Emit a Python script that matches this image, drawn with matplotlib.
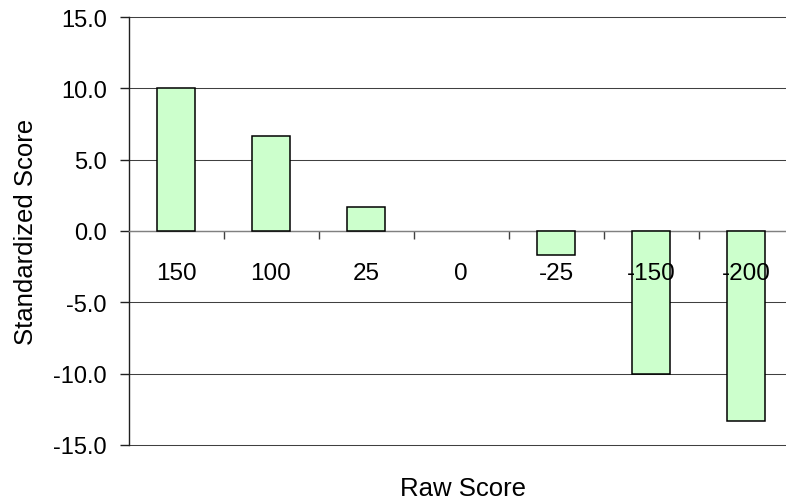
import numpy as np
import matplotlib
matplotlib.use('Agg')
import matplotlib.pyplot as plt
from matplotlib.transforms import offset_copy

plt.rcParams['font.family'] = ['Liberation Sans', 'DejaVu Sans']
plt.rcParams['axes.unicode_minus'] = False

# data
raw_scores = ['150', '100', '25', '0', '-25', '-150', '-200']
standardized = [10.0, 6.67, 1.67, 0.0, -1.67, -10.0, -13.33]
y_ticks = [-15, -10, -5, 0, 5, 10, 15]

fig = plt.figure(figsize=(7.86, 5.02), dpi=100)
# axes run past the right edge like the original picture
ax = fig.add_axes([128.5 / 786, 56 / 502, 665 / 786, 428 / 502])

x = np.arange(len(raw_scores))
edges = ['black' if v != 0 else 'none' for v in standardized]
ax.bar(x, standardized, width=0.41, color='#CCFFCC', edgecolor=edges,
       linewidth=1.1, zorder=3)

ax.set_xlim(-0.5, len(raw_scores) - 0.5)
ax.set_ylim(-15, 15)
ax.set_yticks(y_ticks)
ax.set_yticklabels(['%.1f' % v for v in y_ticks])
ax.yaxis.grid(True, color='#404040', linewidth=0.75, zorder=0)
for gl in ax.yaxis.get_gridlines():
    gl.set_clip_on(False)

# category axis sits on zero
for s in ['top', 'right']:
    ax.spines[s].set_visible(False)
ax.spines['bottom'].set_position(('data', 0))
ax.spines['bottom'].set_color('#808080')
ax.spines['bottom'].set_linewidth(1.0)
ax.spines['left'].set_linewidth(1.0)
ax.spines['left'].set_color('#202020')

ax.set_xticks(x)
ax.set_xticklabels([])
ax.set_xticks(np.arange(len(raw_scores)) + 0.5, minor=True)
ax.tick_params(axis='x', which='major', length=0)
ax.tick_params(axis='x', which='minor', length=6, width=1.0, color='#404040', direction='out')
ax.tick_params(axis='y', length=6.5, width=1.0, pad=9, labelsize=17, color='#202020')

# category labels drawn over the bars
lbl_tr = offset_copy(ax.transData, fig=fig, x=0, y=-42, units='dots')
for xi, name in zip(x, raw_scores):
    ax.text(xi, 0, name, transform=lbl_tr, ha='center', va='center',
            fontsize=17.5, zorder=6)

ax.set_ylabel('Standardized Score', fontsize=18.5)
ax.yaxis.set_label_coords(-(128.5 - 38) / 665, 0.5)

fig.text(463 / 786, 1 - 489 / 502, 'Raw Score', fontsize=18.5, ha='center', va='center')

fig.savefig('out.png', dpi=100)
